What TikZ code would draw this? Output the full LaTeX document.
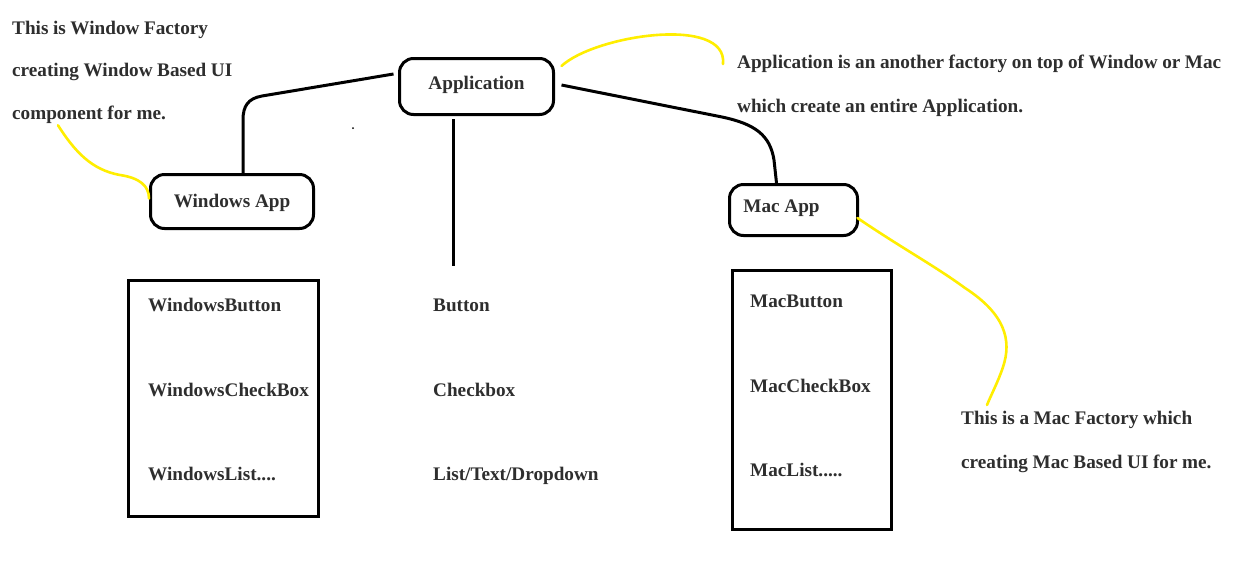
\documentclass[tikz,border=0pt]{standalone}
\usepackage{fontspec}
\setmainfont{Liberation Serif}
\definecolor{txt}{HTML}{2E2E2E}
\definecolor{hlyellow}{HTML}{FFEE00}
\newcommand\mynotefont[1]{\fontsize{19.2}{#1}\selectfont\bfseries}
\newcommand\tightsp{\spaceskip 4.6pt\relax\xspaceskip 4.6pt\relax}
\begin{document}
\begin{tikzpicture}[x=1pt,y=-1pt,
  every node/.style={inner sep=0pt, text=txt, font=\fontsize{19.2}{22}\selectfont\bfseries},
  appbox/.style={draw=black, line width=3pt, rounded corners=14pt},
  listbox/.style={draw=black, line width=3pt},
  item/.style={anchor=base west},
  note/.style={anchor=base west, align=left, text width=#1},
  conn/.style={draw=black, line width=3pt},
  hl/.style={draw=hlyellow, line width=2.6pt, line cap=round}
]
\fill[white] (0,0) rectangle (1247,574);
\useasboundingbox (0,0) rectangle (1247,574);

% boxes
\node[appbox, minimum width=154pt, minimum height=56pt, text height=11pt, text depth=6pt] (app) at (476.5,86.5) {Application};
\node[appbox, minimum width=163pt, minimum height=54pt, text height=12pt, text depth=1pt] (winapp) at (232,201.5) {Windows App};
\node[appbox, minimum width=128pt, minimum height=51pt, text height=10pt, text depth=6pt] (macapp) at (793.5,210) {Mac App\hspace*{24pt}};

\node[listbox, minimum width=190pt, minimum height=236pt] (winlist) at (223.5,398.5) {};
\node[listbox, minimum width=159pt, minimum height=259pt] (maclist) at (812,400) {};

% items
\node[item] (winbtn) at (148,311) {WindowsButton};
\node[item] (winchk) at (148,396) {WindowsCheckBox};
\node[item] (winlst) at (148,480) {WindowsList....};
\node[item] (btn) at (433,311) {Button};
\node[item] (chk) at (433,396) {Checkbox};
\node[item] (lst) at (433,480) {List/Text/Dropdown};
\node[item] (macbtn) at (750,307) {MacButton};
\node[item] (macchk) at (750,392) {MacCheckBox};
\node[item] (maclst) at (750,476) {MacList.....};

% notes
\node[note=280pt, font={\mynotefont{42.5}}] (winnote) at (12,34)
  {\tightsp This is Window Factory\\creating Window Based UI\\component for me.};
\node[note=560pt, font={\mynotefont{44}}] (appnote) at (737,68)
  {\tightsp Application is an another factory on top of Window or Mac\\which create an entire Application.};
\node[note=300pt, font={\mynotefont{44}}] (macnote) at (961,424)
  {\tightsp This is a Mac Factory which\\creating Mac Based UI for me.};

% connectors
\coordinate (btntop) at (453,266);
\draw[conn] ([xshift=-23.5pt,yshift=-3pt]app.south) -- (btntop);
\draw[conn] ([xshift=-4.5pt,yshift=12.5pt]app.west) -- (262,96)
  .. controls (248,98.5) and (243,106) .. (243,120) -- ([xshift=11pt]winapp.north);
\draw[conn] ([xshift=6.5pt,yshift=1.5pt]app.east) -- (722,117)
  .. controls (755,124) and (770,135) .. (774,160) -- ([xshift=-17pt]macapp.north);

% yellow highlights
\draw[hl] ([xshift=46pt,yshift=-2pt]winnote.south west)
  .. controls (75,152) and (92,170) .. (120,175)
  .. controls (140,178) and (149,186) .. ([yshift=3pt]winapp.west);
\draw[hl] ([xshift=6.5pt,yshift=20.5pt]app.east)
  .. controls (595,35) and (728,15) .. ([xshift=-14pt,yshift=4pt]appnote.base west);
\draw[hl] ([xshift=-1.5pt,yshift=-8pt]macapp.east)
  .. controls (900,247) and (935,266) .. (965,288)
  .. controls (1005,314) and (1012,340) .. (1003,367)
  .. controls (998,382) and (991,395) .. ([xshift=26pt,yshift=19pt]macnote.base west);

% stray dot
\fill[black] (353,128) circle (1pt);
\end{tikzpicture}
\end{document}
